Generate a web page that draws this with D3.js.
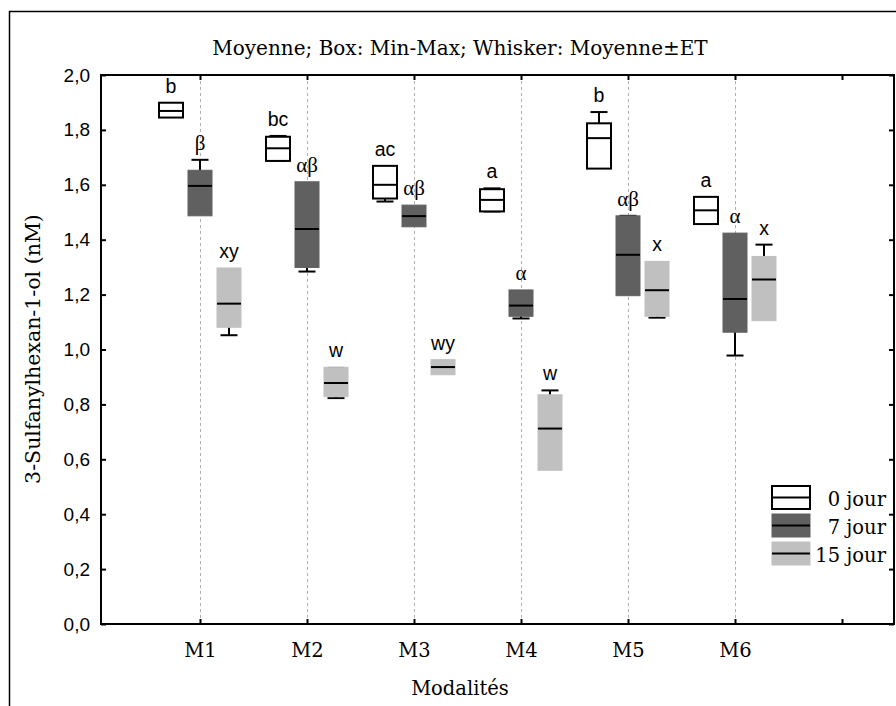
<!DOCTYPE html>
<html>
<head>
<meta charset="utf-8">
<script src="https://cdn.jsdelivr.net/npm/d3@7/dist/d3.min.js"></script>
<style>
  html, body { margin: 0; padding: 0; background: #fff; }
  svg { display: block; }
</style>
</head>
<body>
<svg id="chart" width="896" height="706"></svg>
<script>
// Categories and series
const categories = ["M1", "M2", "M3", "M4", "M5", "M6"];
const series = ["0 jour", "7 jour", "15 jour"];

// 0 jour : moyenne, min, max, écart-type
const mean0 = [1.869, 1.733, 1.600, 1.545, 1.770, 1.507];
const min0  = [1.845, 1.687, 1.550, 1.503, 1.659, 1.457];
const max0  = [1.899, 1.775, 1.669, 1.584, 1.824, 1.556];
const sd0   = [0.020, 0.045, 0.061, 0.042, 0.095, 0.030];

// 7 jour
const mean7 = [1.596, 1.439, 1.486, 1.160, 1.345, 1.184];
const min7  = [1.487, 1.299, 1.447, 1.121, 1.196, 1.063];
const max7  = [1.653, 1.611, 1.526, 1.217, 1.487, 1.424];
const sd7   = [0.095, 0.155, 0.030, 0.047, 0.142, 0.206];

// 15 jour
const mean15 = [1.167, 0.878, 0.936, 0.712, 1.216, 1.255];
const min15  = [1.081, 0.828, 0.908, 0.560, 1.121, 1.105];
const max15  = [1.297, 0.935, 0.963, 0.835, 1.321, 1.339];
const sd15   = [0.115, 0.055, 0.020, 0.139, 0.100, 0.127];

// Significance letters
const letters0  = ["b", "bc", "ac", "a", "b", "a"];
const letters7  = ["β", "αβ", "αβ", "α", "αβ", "α"];
const letters15 = ["xy", "w", "wy", "w", "x", "x"];

// Axis ticks
const yTicks = [0, 0.2, 0.4, 0.6, 0.8, 1.0, 1.2, 1.4, 1.6, 1.8, 2.0];
const xTicks = [1, 2, 3, 4, 5, 6, 7];

const seriesData = [
  { name: series[0], mean: mean0,  min: min0,  max: max0,  sd: sd0,  letters: letters0,  fill: "#ffffff", outline: true,  greek: false },
  { name: series[1], mean: mean7,  min: min7,  max: max7,  sd: sd7,  letters: letters7,  fill: "#606060", outline: false, greek: true },
  { name: series[2], mean: mean15, min: min15, max: max15, sd: sd15, letters: letters15, fill: "#c0c0c0", outline: false, greek: false }
];

const SERIF = "'DejaVu Serif', serif";
const SANS = "'Liberation Sans', Arial, sans-serif";
const GREEK = "'Liberation Serif', 'Times New Roman', serif";
const TXT = "19.5px";

const svg = d3.select("#chart");

// plot frame
const plot = { left: 101, right: 894, top: 75, bottom: 624 };

const x = d3.scaleLinear().domain([1, 7]).range([200, 842]);
const y = d3.scaleLinear().domain([0, 2]).range([plot.bottom, plot.top]);
const offset = d3.scalePoint().domain(series).range([-29, 29]);
const boxW = 24, capW = 17;

const locale = d3.formatLocale({ decimal: ",", thousands: " ", grouping: [3], currency: ["", " €"] });
const fmt = locale.format(".1f");

// outer border
svg.append("path")
  .attr("d", "M9.5,706 V11.5 H896")
  .attr("fill", "none").attr("stroke", "#000").attr("stroke-width", 1.5);

// title
svg.append("text")
  .attr("x", 460).attr("y", 55)
  .attr("text-anchor", "middle")
  .style("font-family", SERIF).style("font-size", "20px")
  .text("Moyenne; Box: Min-Max; Whisker: Moyenne±ET");

// vertical dashed grid lines at each category
svg.append("g").selectAll("line")
  .data(categories.map((c, i) => i + 1))
  .join("line")
  .attr("x1", d => x(d) + 0.5).attr("x2", d => x(d) + 0.5)
  .attr("y1", plot.top).attr("y2", plot.bottom)
  .attr("stroke", "#b0b0b0").attr("stroke-width", 1)
  .attr("stroke-dasharray", "3,3");

// axes
const axisStyle = g => {
  g.select(".domain").remove();
  g.selectAll(".tick line").attr("stroke", "#000").attr("stroke-width", 2);
};

svg.append("g")
  .attr("transform", `translate(${plot.left},0)`)
  .call(d3.axisLeft(y).tickValues(yTicks).tickFormat(fmt).tickSize(-5).tickPadding(11))
  .call(axisStyle)
  .call(g => g.selectAll("text").style("font-family", SANS).style("font-size", "19px").attr("fill", "#000"));

svg.append("g")
  .attr("transform", `translate(${plot.right},0)`)
  .call(d3.axisRight(y).tickValues(yTicks).tickFormat("").tickSize(-5))
  .call(axisStyle);

svg.append("g")
  .attr("transform", `translate(0,${plot.bottom})`)
  .call(d3.axisBottom(x).tickValues(xTicks).tickFormat(d => categories[d - 1] || "").tickSize(-5).tickPadding(19))
  .call(axisStyle)
  .call(g => g.selectAll("text").style("font-family", SERIF).style("font-size", TXT).attr("fill", "#000"));

svg.append("g")
  .attr("transform", `translate(0,${plot.top})`)
  .call(d3.axisTop(x).tickValues(xTicks).tickFormat("").tickSize(-5))
  .call(axisStyle);

// frame
svg.append("rect")
  .attr("x", plot.left).attr("y", plot.top)
  .attr("width", plot.right - plot.left).attr("height", plot.bottom - plot.top)
  .attr("fill", "none").attr("stroke", "#000").attr("stroke-width", 2);

// axis titles
svg.append("text")
  .attr("x", 460).attr("y", 695)
  .attr("text-anchor", "middle")
  .style("font-family", SERIF).style("font-size", TXT)
  .text("Modalités");

svg.append("text")
  .attr("transform", "translate(40,349) rotate(-90)")
  .attr("text-anchor", "middle")
  .style("font-family", SERIF).style("font-size", "20.5px")
  .text("3-Sulfanylhexan-1-ol (nM)");

// boxes
const marks = svg.append("g");
seriesData.forEach(s => {
  const g = marks.append("g");
  categories.forEach((c, i) => {
    const cx = x(i + 1) + offset(s.name);
    const lo = s.mean[i] - s.sd[i], hi = s.mean[i] + s.sd[i];
    // whisker (mean ± SD), drawn under the box
    g.append("line")
      .attr("x1", cx).attr("x2", cx).attr("y1", y(lo)).attr("y2", y(hi))
      .attr("stroke", "#000").attr("stroke-width", 2);
    [lo, hi].forEach(v => {
      g.append("line")
        .attr("x1", cx - capW / 2).attr("x2", cx + capW / 2)
        .attr("y1", y(v)).attr("y2", y(v))
        .attr("stroke", "#000").attr("stroke-width", 2);
    });
    // box (min-max)
    g.append("rect")
      .attr("x", cx - boxW / 2).attr("y", y(s.max[i]))
      .attr("width", boxW).attr("height", y(s.min[i]) - y(s.max[i]))
      .attr("fill", s.fill)
      .attr("stroke", s.outline ? "#000" : s.fill)
      .attr("stroke-width", s.outline ? 2 : 1);
    // mean
    g.append("line")
      .attr("x1", cx - boxW / 2).attr("x2", cx + boxW / 2)
      .attr("y1", y(s.mean[i])).attr("y2", y(s.mean[i]))
      .attr("stroke", "#000").attr("stroke-width", 2);
    // letter above the highest element
    const top = Math.min(y(s.max[i]), y(hi));
    g.append("text")
      .attr("x", cx).attr("y", top - 10)
      .attr("text-anchor", "middle")
      .style("font-family", s.greek ? GREEK : SANS)
      .style("font-size", s.greek ? "21px" : "19.5px")
      .text(s.letters[i]);
  });
});

// legend
const legend = svg.append("g");
seriesData.forEach((s, k) => {
  const ly = 486 + k * 28;
  legend.append("rect")
    .attr("x", 772).attr("y", ly).attr("width", 38).attr("height", 23)
    .attr("fill", s.fill)
    .attr("stroke", s.outline ? "#000" : s.fill)
    .attr("stroke-width", s.outline ? 2 : 1);
  legend.append("line")
    .attr("x1", 772).attr("x2", 810).attr("y1", ly + 11.5).attr("y2", ly + 11.5)
    .attr("stroke", "#000").attr("stroke-width", 2);
  legend.append("text")
    .attr("x", 886).attr("y", ly + 20)
    .attr("text-anchor", "end")
    .style("font-family", SERIF).style("font-size", TXT)
    .text(s.name);
});
</script>
</body>
</html>
